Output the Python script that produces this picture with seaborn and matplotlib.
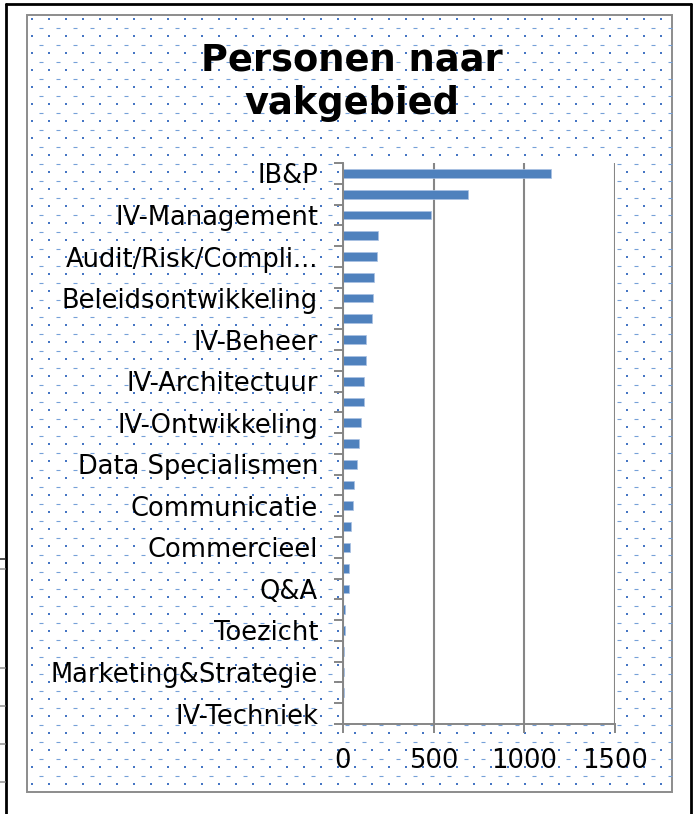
import matplotlib
matplotlib.use("Agg")
import matplotlib.pyplot as plt
import numpy as np
import pandas as pd
import seaborn as sns

# Data (every other label is hidden on the axis, as in the original)
labels = ["IB&P", "", "IV-Management", "", "Audit/Risk/Compli...", "",
          "Beleidsontwikkeling", "", "IV-Beheer", "", "IV-Architectuur", "",
          "IV-Ontwikkeling", "", "Data Specialismen", "", "Communicatie", "",
          "Commercieel", "", "Q&A", "", "Toezicht", "", "Marketing&Strategie", "",
          "IV-Techniek"]
personen = [1149, 687, 484, 195, 190, 173, 168, 162, 129, 127, 114, 114, 101, 87,
            77, 63, 57, 44, 40, 33, 33, 13, 11, 7, 6, 3, 1]
xticks = [0, 500, 1000, 1500]

df = pd.DataFrame({"pos": range(len(personen)), "personen": personen})

sns.set_style("white")
plt.rcParams["font.family"] = ["DejaVu Sans"]
plt.rcParams["text.color"] = "black"

W, H = 696, 814
fig = plt.figure(figsize=(W / 100, H / 100), dpi=100)

# background canvas in pixel coordinates (frames + dotted fill)
bg = fig.add_axes([0, 0, 1, 1])
bg.set_xlim(0, W)
bg.set_ylim(H, 0)
bg.axis("off")
bg.plot([5.5, 5.5], [3.5, H], color="black", lw=2)
bg.plot([5.5, 691], [3.5, 3.5], color="black", lw=2)
bg.plot([691, 691], [3.5, H], color="black", lw=2)
bg.add_patch(plt.Rectangle((27, 15), 645, 777, fill=False, ec="#8c8c8c", lw=1.4))
for yy, c in [(559, "#333333"), (569, "#999999"), (668, "#999999"),
              (706, "#999999"), (744, "#999999"), (782, "#999999")]:
    bg.plot([0, 4.5], [yy, yy], color=c, lw=1.2)

# dot texture
ax_, ay_ = np.meshgrid(np.arange(32, 670, 17), np.arange(19, 790, 17))
bx_, by_ = np.meshgrid(np.arange(40.5, 670, 17), np.arange(27.5, 790, 17))
bg.scatter(ax_.ravel(), ay_.ravel(), marker="s", s=3.2, color="#4676c4", lw=0)
bg.scatter(bx_.ravel(), by_.ravel(), marker="_", s=6, color="#75a0d8", lw=0.8)

# title
fig.text(352 / W, 1 - 60 / H, "Personen naar", ha="center", va="center",
         fontsize=26.5, fontweight="bold", color="black")
fig.text(352 / W, 1 - 103 / H, "vakgebied", ha="center", va="center",
         fontsize=26.5, fontweight="bold", color="black")

# main plot
ax = fig.add_axes([343 / W, 1 - 724 / H, (615 - 343) / W, (724 - 163) / H])
ax.set_facecolor("white")
sns.barplot(data=df, x="personen", y="pos", orient="h", color="#4f81bd",
            width=0.42, saturation=1, edgecolor="#a9c1e3", linewidth=0.5, ax=ax)
ax.set_xlim(0, 1500)
ax.set_ylim(len(personen) - 0.5, -0.5)

ax.set_xticks(xticks)
ax.set_xticklabels([str(v) for v in xticks])
ax.set_yticks(range(len(labels)))
ax.set_yticklabels(labels)
ax.set_yticks(np.arange(-0.5, len(labels), 1), minor=True)
ax.tick_params(axis="y", which="major", length=0, pad=18, labelsize=18.5,
               labelcolor="black")
ax.tick_params(axis="y", which="minor", length=6.5, width=1.4, color="#868686",
               left=True)
ax.tick_params(axis="x", length=6.5, width=1.4, color="#868686", pad=11,
               labelsize=18.5, labelcolor="black", bottom=True)
ax.xaxis.grid(True, color="#868686", lw=1.5)
ax.set_axisbelow(True)
for side in ["top", "right"]:
    ax.spines[side].set_visible(False)
for side in ["left", "bottom"]:
    ax.spines[side].set_color("#868686")
    ax.spines[side].set_linewidth(1.4)
ax.set_xlabel("")
ax.set_ylabel("")

fig.savefig("out.png", dpi=100)
